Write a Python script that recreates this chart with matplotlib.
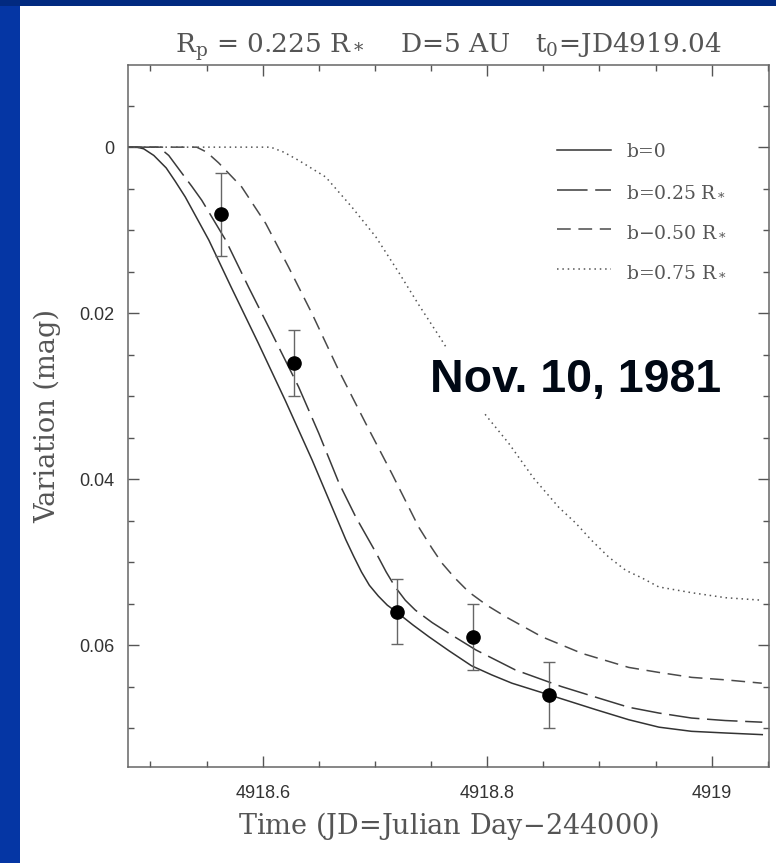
import matplotlib
matplotlib.use('Agg')
import matplotlib.pyplot as plt
from matplotlib.patches import Rectangle
from matplotlib.ticker import MultipleLocator, FixedLocator, FixedFormatter

plt.rcParams['mathtext.fontset'] = 'dejavuserif'

# model light curves (time JD-244000, variation in mag)
t_b0 = [4918.480, 4918.488, 4918.494, 4918.503, 4918.514, 4918.522, 4918.531, 4918.552,
        4918.572, 4918.596, 4918.620, 4918.644, 4918.659, 4918.674, 4918.681, 4918.688,
        4918.695, 4918.703, 4918.711, 4918.719, 4918.734, 4918.748, 4918.766, 4918.786,
        4918.804, 4918.822, 4918.855, 4918.897, 4918.926, 4918.953, 4918.982, 4919.012,
        4919.045]
v_b0 = [0, 0, 0.0002, 0.0010, 0.0025, 0.0041, 0.0060, 0.0112,
        0.0169, 0.0236, 0.0305, 0.0377, 0.0425, 0.0473, 0.0493, 0.0512,
        0.0528, 0.0541, 0.0552, 0.0560, 0.0576, 0.0590, 0.0607, 0.0625,
        0.0636, 0.0646, 0.0660, 0.0678, 0.0690, 0.0699, 0.0704, 0.0706,
        0.0708]

t_b25 = [4918.480, 4918.5074, 4918.5163, 4918.5278, 4918.5367, 4918.5457, 4918.567, 4918.5875,
         4918.608, 4918.632, 4918.650, 4918.668, 4918.683, 4918.701, 4918.710, 4918.718,
         4918.727, 4918.736, 4918.751, 4918.766, 4918.790, 4918.825, 4918.866, 4918.897,
         4918.926, 4918.953, 4918.982, 4919.012, 4919.045]
v_b25 = [0, 0, 0.0010, 0.0031, 0.0047, 0.0064, 0.0112, 0.0169,
         0.0224, 0.0289, 0.0345, 0.0405, 0.0446, 0.0489, 0.0512, 0.0530,
         0.0546, 0.0558, 0.0573, 0.0586, 0.0606, 0.0630, 0.0650, 0.0663,
         0.0675, 0.0682, 0.0688, 0.0691, 0.0693]

t_b50 = [4918.480, 4918.5412, 4918.5501, 4918.5608, 4918.5813, 4918.6027, 4918.6232, 4918.6437,
         4918.6677, 4918.6918, 4918.7149, 4918.7390, 4918.7506, 4918.7595, 4918.7710, 4918.7835,
         4918.7996, 4918.8165, 4918.8486, 4918.8842, 4918.9261, 4918.9528, 4918.9822, 4919.0125,
         4919.0446]
v_b50 = [0, 0, 0.0006, 0.0019, 0.0048, 0.0092, 0.0145, 0.0200,
         0.0269, 0.0333, 0.0393, 0.0458, 0.0483, 0.0501, 0.0519, 0.0536,
         0.0552, 0.0566, 0.0590, 0.0610, 0.0627, 0.0633, 0.0639, 0.0642,
         0.0646]

t_b75 = [4918.480, 4918.6071, 4918.6187, 4918.6321, 4918.6561, 4918.6793, 4918.7007, 4918.7212,
         4918.7390, 4918.7568, 4918.7791, 4918.7987, 4918.8192, 4918.8414, 4918.8637, 4918.8788,
         4918.8931, 4918.9082, 4918.9234, 4918.9376, 4918.9528, 4918.9822, 4919.0125, 4919.0446]
v_b75 = [0, 0, 0.0006, 0.0016, 0.0036, 0.0072, 0.0108, 0.0151,
         0.0190, 0.0227, 0.0275, 0.0323, 0.0357, 0.0399, 0.0434, 0.0453,
         0.0474, 0.0494, 0.0510, 0.0519, 0.0530, 0.0537, 0.0543, 0.0546]

# observations
obs_t = [4918.563, 4918.628, 4918.720, 4918.787, 4918.855]
obs_v = [0.0081, 0.0260, 0.0560, 0.0590, 0.0660]
obs_err = [0.0050, 0.0040, 0.0039, 0.0040, 0.0040]

curve_labels = ['b=0', r'b=0.25 R$_*$', r'b$-$0.50 R$_*$', r'b=0.75 R$_*$']
x_ticks = [4918.6, 4918.8, 4919.0]
x_ticklabels = ['4918.6', '4918.8', '4919']
y_ticks = [0, 0.02, 0.04, 0.06]
y_ticklabels = ['0', '0.02', '0.04', '0.06']

W, H = 776, 863
fig = plt.figure(figsize=(W / 100, H / 100), dpi=100)
fig.patch.set_facecolor('#0536a4')
# slide background: dark strip on top, white panel
fig.patches.append(Rectangle((0, 1 - 6 / H), 1, 6 / H, transform=fig.transFigure,
                             facecolor='#022a80', edgecolor='none', zorder=-10))
fig.patches.append(Rectangle((20 / W, 0), 1 - 20 / W, 1 - 6 / H, transform=fig.transFigure,
                             facecolor='white', edgecolor='none', zorder=-10))

ax = fig.add_axes([128 / W, 1 - 767 / H, (769 - 128) / W, (767 - 65) / H])
ax.set_facecolor('none')

l0, = ax.plot(t_b0, v_b0, color='#333333', lw=1.1, label=curve_labels[0])
l1, = ax.plot(t_b25, v_b25, color='#3a3a3a', lw=1.1, dashes=(20, 5), label=curve_labels[1])
l2, = ax.plot(t_b50, v_b50, color='#4a4a4a', lw=1.1, dashes=(9, 5), label=curve_labels[2])
l3, = ax.plot(t_b75, v_b75, color='#555555', lw=1.1, dashes=(1, 2.5), label=curve_labels[3])

ax.errorbar(obs_t, obs_v, yerr=obs_err, fmt='o', color='black', ms=9.5,
            ecolor='#666666', elinewidth=1.0, capsize=4.5, capthick=1.0, zorder=5)

ax.set_xlim(4918.48, 4919.051)
ax.set_ylim(0.0747, -0.0099)

ax.xaxis.set_major_locator(FixedLocator(x_ticks))
ax.xaxis.set_major_formatter(FixedFormatter(x_ticklabels))
ax.xaxis.set_minor_locator(MultipleLocator(0.05))
ax.yaxis.set_major_locator(FixedLocator(y_ticks))
ax.yaxis.set_major_formatter(FixedFormatter(y_ticklabels))
ax.yaxis.set_minor_locator(MultipleLocator(0.005))

ax.tick_params(which='both', direction='in', top=True, right=True, color='#555555', width=1.0)
ax.tick_params(which='major', length=8)
ax.tick_params(which='minor', length=4.5)
ax.tick_params(axis='x', which='major', pad=13, labelsize=13, labelcolor='#333333')
ax.tick_params(axis='y', which='major', pad=10, labelsize=13, labelcolor='#333333')
for lab in ax.get_xticklabels() + ax.get_yticklabels():
    lab.set_family('Liberation Sans')
for sp in ax.spines.values():
    sp.set_color('#666666')
    sp.set_linewidth(1.1)

serif = 'DejaVu Serif'
ax.set_xlabel(r'Time (JD=Julian Day$-$244000)', family=serif, fontsize=19.5, color='#555555', labelpad=6)
ax.set_ylabel('Variation (mag)', family=serif, fontsize=19.5, color='#555555', labelpad=13)
ax.set_title(r'R$_{\rm p}$ = 0.225 R$_*$    D=5 AU   t$_0$=JD4919.04',
             family=serif, fontsize=19, color='#555555', pad=9)

leg = ax.legend(handles=[l0, l1, l2, l3], loc='upper left', bbox_to_anchor=(0.669, 0.889),
                frameon=False, prop={'family': serif, 'size': 13.5}, handlelength=2.9,
                handletextpad=0.8, labelspacing=1.15, borderpad=0, borderaxespad=0)
for txt in leg.get_texts():
    txt.set_color('#555555')

ax.text(0.471, 0.551, 'Nov. 10, 1981', transform=ax.transAxes, family='Liberation Sans',
        fontweight='bold', fontsize=33.5, color='#000814', ha='left', va='center',
        bbox=dict(facecolor='white', edgecolor='none', pad=7), zorder=6)

fig.savefig('out.png', dpi=100, facecolor=fig.get_facecolor())
